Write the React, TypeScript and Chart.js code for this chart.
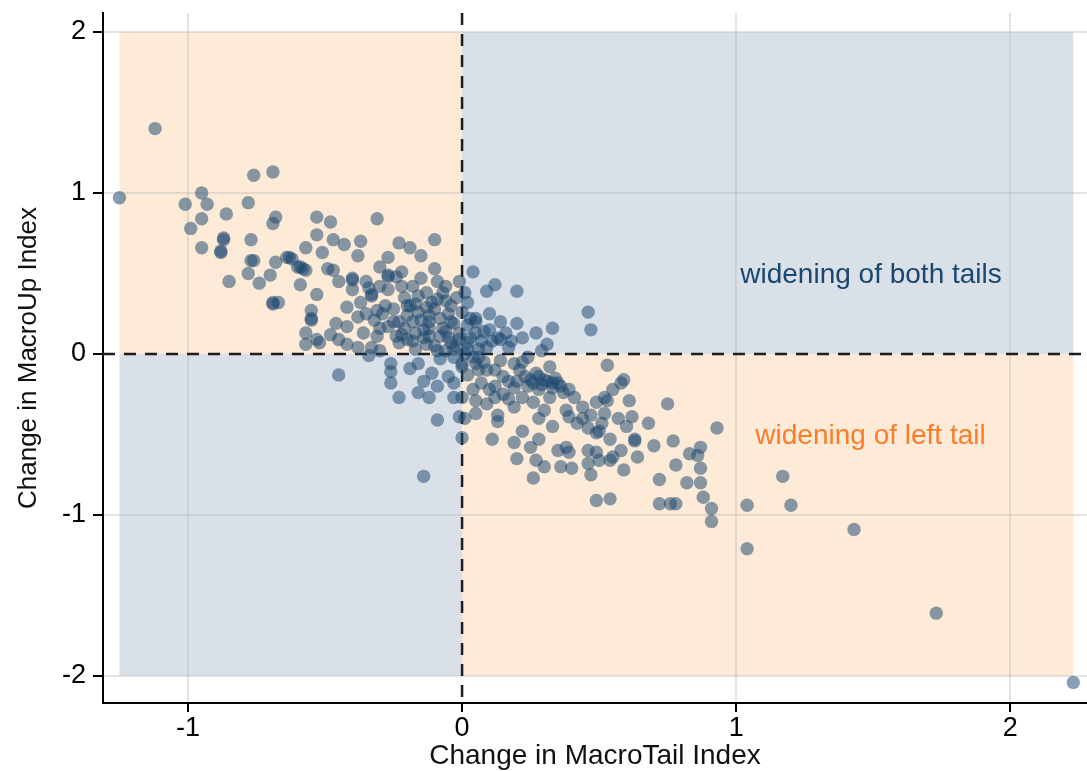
import React, { useEffect, useRef } from 'react';
import { Chart, registerables } from 'chart.js';

Chart.register(...registerables);

// ---------- data ----------
const X_TICKS = [-1, 0, 1, 2];
const Y_TICKS = [-2, -1, 0, 1, 2];
const X_RANGE = [-1.31, 2.28];
const Y_RANGE = [-2.168, 2.118];
const SHADE_X = [-1.25, 2.23];
const SHADE_Y = [-2, 2];
const X_TITLE = 'Change in MacroTail Index';
const Y_TITLE = 'Change in MacroUp Index';
const LABEL_BOTH = 'widening of both tails';
const LABEL_LEFT = 'widening of left tail';
const LABEL_BOTH_AT = [1.015, 0.49];
const LABEL_LEFT_AT = [1.07, -0.51];

// [change in MacroTail index, change in MacroUp index]
const POINTS_UPPER_LEFT: [number, number][] = [
  [-1.12, 1.40], [-0.76, 1.11], [-0.69, 1.13], [-1.25, 0.97], [-0.95, 1.00], [-1.01, 0.93], [-0.93, 0.93],
  [-0.78, 0.94], [-0.95, 0.84], [-0.86, 0.87], [-0.99, 0.78], [-0.68, 0.85], [-0.69, 0.81], [-0.53, 0.85],
  [-0.87, 0.71], [-0.77, 0.71], [-0.95, 0.66], [-0.88, 0.63], [-0.53, 0.74], [-0.57, 0.66], [-0.76, 0.58],
  [-0.68, 0.57], [-0.64, 0.60], [-0.59, 0.54], [-0.57, 0.52], [-0.78, 0.50], [-0.70, 0.49], [-0.74, 0.44],
  [-0.85, 0.45], [-0.59, 0.43], [-0.53, 0.37], [-0.69, 0.32], [-0.67, 0.32], [-0.55, 0.27], [-0.55, 0.21],
  [-0.57, 0.13], [-0.53, 0.09], [-0.57, 0.06], [-0.88, 0.64], [-0.87, 0.72], [-0.77, 0.58], [-0.69, 0.31],
  [-0.63, 0.60], [-0.60, 0.54], [-0.55, 0.22],
];

const POINTS_CENTER_LEFT: [number, number][] = [
  [-0.48, 0.82], [-0.31, 0.84], [-0.47, 0.71], [-0.43, 0.68], [-0.37, 0.70], [-0.38, 0.61], [-0.51, 0.63],
  [-0.23, 0.69], [-0.19, 0.66], [-0.15, 0.61], [-0.10, 0.71], [-0.62, 0.59], [-0.49, 0.53], [-0.47, 0.52],
  [-0.45, 0.45], [-0.40, 0.47], [-0.30, 0.54], [-0.27, 0.60], [-0.27, 0.49], [-0.24, 0.48], [-0.22, 0.51],
  [-0.10, 0.53], [-0.15, 0.47], [-0.09, 0.45], [-0.06, 0.42], [-0.01, 0.45], [-0.52, 0.07], [-0.48, 0.12],
  [-0.46, 0.19], [-0.42, 0.29], [-0.40, 0.40], [-0.37, 0.32], [-0.33, 0.37], [-0.34, 0.41], [-0.27, 0.40],
  [-0.22, 0.42], [-0.21, 0.35], [-0.29, 0.25], [-0.32, 0.21], [-0.38, 0.23], [-0.42, 0.17], [-0.36, 0.13],
  [-0.31, 0.11], [-0.27, 0.17], [-0.24, 0.11], [-0.20, 0.09], [-0.15, 0.21], [-0.13, 0.29], [-0.09, 0.34],
  [-0.05, 0.25], [-0.03, 0.19], [-0.01, 0.13], [-0.12, 0.11], [-0.08, 0.11], [-0.04, 0.07], [-0.33, 0.04],
  [-0.38, 0.04], [-0.45, 0.09], [-0.42, 0.06], [-0.58, 0.53], [-0.40, 0.46], [-0.33, 0.36], [-0.27, 0.48],
  [-0.17, 0.31], [-0.12, 0.16], [-0.06, 0.14], [-0.03, 0.03],
];

const POINTS_LOWER_LEFT: [number, number][] = [
  [-0.34, -0.01], [-0.30, 0.02], [-0.45, -0.13], [-0.26, -0.06], [-0.26, -0.11], [-0.26, -0.18], [-0.23, -0.27],
  [-0.19, -0.09], [-0.16, -0.06], [-0.14, -0.17], [-0.16, -0.24], [-0.12, -0.27], [-0.09, -0.41], [-0.09, -0.20],
  [-0.05, -0.14], [-0.03, -0.18], [-0.03, -0.27], [-0.01, -0.39], [0.00, -0.52], [-0.14, -0.76], [-0.11, -0.12],
  [-0.03, -0.02], [0.00, -0.06], [-0.23, 0.07],
];

const POINTS_CENTER_RIGHT: [number, number][] = [
  [0.04, 0.51], [0.09, 0.39], [0.12, 0.43], [0.20, 0.39], [0.46, 0.26], [0.47, 0.15], [0.02, 0.32], [0.00, 0.26],
  [0.05, 0.20], [0.20, 0.19], [0.33, 0.16], [0.27, 0.13], [0.22, 0.10], [0.13, 0.10], [0.09, 0.04], [0.17, 0.04],
  [0.31, 0.06], [0.29, 0.02], [0.05, 0.13], [0.02, 0.07], [0.53, -0.07], [0.19, -0.06], [0.32, -0.08], [0.24, -0.02],
  [0.14, -0.04], [0.05, -0.06], [0.00, -0.08], [0.09, -0.10], [0.15, -0.14], [0.02, -0.13], [0.07, -0.18],
  [0.10, -0.22], [0.19, -0.21], [0.24, -0.20], [0.31, -0.17], [0.35, -0.18], [0.36, -0.20], [0.39, -0.22],
  [0.41, -0.27], [0.28, -0.22], [0.22, -0.27], [0.19, -0.33], [0.26, -0.30], [0.30, -0.35], [0.38, -0.35],
  [0.44, -0.33], [0.49, -0.30], [0.52, -0.27], [0.55, -0.22], [0.58, -0.18], [0.59, -0.16], [0.61, -0.29],
  [0.62, -0.39], [0.68, -0.43], [0.00, -0.27], [0.05, -0.29], [0.12, -0.27], [0.01, -0.40], [0.05, -0.37],
  [0.13, -0.38], [0.13, -0.42], [0.22, -0.48], [0.28, -0.40], [0.33, -0.45], [0.39, -0.39], [0.42, -0.43],
  [0.46, -0.46], [0.50, -0.48], [0.51, -0.43], [0.54, -0.53], [0.11, -0.53], [0.19, -0.55], [0.25, -0.58],
  [0.28, -0.53], [0.35, -0.60], [0.38, -0.58], [0.39, -0.61], [0.46, -0.60], [0.49, -0.61], [0.58, -0.60],
  [0.63, -0.53], [0.20, -0.65], [0.27, -0.66], [0.30, -0.70], [0.36, -0.70], [0.40, -0.71], [0.46, -0.68],
  [0.50, -0.66], [0.54, -0.66], [0.59, -0.72], [0.64, -0.64], [0.26, -0.77], [0.33, -0.18], [0.30, -0.16],
  [0.49, -0.49], [0.63, -0.54], [0.05, 0.22], [0.26, -0.18], [0.14, 0.09], [0.06, -0.02],
];

const POINTS_FAR_RIGHT: [number, number][] = [
  [0.75, -0.31], [0.93, -0.46], [0.70, -0.57], [0.77, -0.54], [0.87, -0.58], [0.83, -0.62], [0.86, -0.63],
  [0.78, -0.69], [0.87, -0.71], [0.72, -0.78], [0.82, -0.80], [0.87, -0.80], [0.88, -0.89], [0.72, -0.93],
  [0.76, -0.93], [0.78, -0.93], [0.91, -0.96], [0.91, -1.04], [1.04, -0.94], [1.20, -0.94], [1.17, -0.76],
  [1.43, -1.09], [1.04, -1.21], [1.73, -1.61], [2.23, -2.04], [0.49, -0.91], [0.54, -0.90], [0.47, -0.75],
  [0.55, -0.64], [0.53, -0.29],
];

const POINTS_CORE: [number, number][] = [
  [-0.12, 0.20], [-0.07, 0.16], [-0.05, 0.10], [-0.10, 0.05], [-0.02, 0.05], [0.01, 0.00], [-0.06, 0.02],
  [0.03, 0.10], [0.06, 0.03], [-0.14, 0.15], [-0.17, 0.03], [-0.08, -0.03], [0.04, -0.02], [0.08, 0.14],
  [0.11, 0.08], [0.14, 0.20], [0.10, 0.25], [0.16, 0.13], [-0.18, 0.20], [-0.21, 0.16], [-0.11, 0.32],
  [-0.16, 0.36], [-0.04, 0.30], [0.02, 0.18], [-0.20, 0.24], [-0.17, 0.13], [-0.25, 0.20], [-0.19, 0.30],
  [-0.13, 0.06], [0.25, -0.16], [0.29, -0.19], [0.33, -0.21], [0.27, -0.12], [0.21, -0.10], [0.17, -0.17],
  [0.08, -0.05], [0.12, -0.10], [0.04, -0.22], [0.15, -0.25], [0.09, -0.31], [0.01, 0.38], [-0.02, 0.35],
  [0.03, 0.22],
];

const POINTS_DENSE: [number, number][] = [
  [-0.20, 0.30], [-0.16, 0.26], [-0.12, 0.24], [-0.08, 0.22], [-0.04, 0.20], [-0.10, 0.28], [-0.06, 0.33],
  [-0.14, 0.10], [-0.18, 0.08], [-0.22, 0.12], [-0.09, 0.02], [-0.01, 0.09], [0.02, 0.03], [-0.28, 0.30],
  [-0.31, 0.27], [-0.35, 0.25], [-0.23, 0.20], [-0.30, 0.16], [-0.25, 0.28], [-0.35, 0.45], [-0.30, 0.42],
  [-0.18, 0.42], [-0.13, 0.38], [-0.07, 0.38], [0.07, 0.08], [0.10, 0.15], [0.18, 0.08], [0.22, -0.05],
  [0.23, -0.14], [0.28, -0.14], [0.34, -0.15], [0.37, -0.24], [0.32, -0.27], [0.20, -0.17], [0.12, -0.20],
  [0.17, -0.28], [0.06, -0.10], [0.44, -0.40], [0.47, -0.38], [0.52, -0.37], [0.57, -0.40], [0.60, -0.45],
];

// ---------- styles ----------
const FONT = '"Liberation Sans", Arial, Helvetica, sans-serif';
const ORANGE_BG = '#fdead7';
const GRAY_BG = '#d9e0e8';
const GRID = 'rgba(185,185,185,0.38)';
const POINT_COLOR = 'rgba(26,71,111,0.52)';

const quadrantPlugin = {
  id: 'quadrants',
  beforeDraw(chart: any) {
    const { ctx, scales } = chart;
    const xs = scales.x, ys = scales.y;
    const x0 = xs.getPixelForValue(SHADE_X[0]);
    const x1 = xs.getPixelForValue(SHADE_X[1]);
    const xm = xs.getPixelForValue(0);
    const yTop = ys.getPixelForValue(SHADE_Y[1]);
    const yBot = ys.getPixelForValue(SHADE_Y[0]);
    const ym = ys.getPixelForValue(0);
    ctx.save();
    ctx.fillStyle = ORANGE_BG;
    ctx.fillRect(x0, yTop, xm - x0, ym - yTop);
    ctx.fillRect(xm, ym, x1 - xm, yBot - ym);
    ctx.fillStyle = GRAY_BG;
    ctx.fillRect(xm, yTop, x1 - xm, ym - yTop);
    ctx.fillRect(x0, ym, xm - x0, yBot - ym);
    ctx.restore();
  },
  beforeDatasetsDraw(chart: any) {
    const { ctx, chartArea, scales } = chart;
    const xm = scales.x.getPixelForValue(0);
    const ym = scales.y.getPixelForValue(0);
    ctx.save();
    ctx.strokeStyle = '#1e1e1e';
    ctx.lineWidth = 2.5;
    ctx.setLineDash([12, 9]);
    ctx.beginPath();
    ctx.moveTo(xm, chartArea.top);
    ctx.lineTo(xm, chartArea.bottom);
    ctx.stroke();
    ctx.beginPath();
    ctx.moveTo(chartArea.left, ym);
    ctx.lineTo(chartArea.right, ym);
    ctx.stroke();
    ctx.restore();
  },
  afterDatasetsDraw(chart: any) {
    const { ctx, scales } = chart;
    ctx.save();
    ctx.font = `28px ${FONT}`;
    ctx.textAlign = 'left';
    ctx.textBaseline = 'middle';
    ctx.fillStyle = '#1a476f';
    ctx.fillText(LABEL_BOTH, scales.x.getPixelForValue(LABEL_BOTH_AT[0]), scales.y.getPixelForValue(LABEL_BOTH_AT[1]));
    ctx.fillStyle = '#fb7d2a';
    ctx.fillText(LABEL_LEFT, scales.x.getPixelForValue(LABEL_LEFT_AT[0]), scales.y.getPixelForValue(LABEL_LEFT_AT[1]));
    ctx.restore();
  },
};

function zeroPadding(s: any) {
  s.paddingTop = 0;
  s.paddingBottom = 0;
  s.paddingLeft = 0;
  s.paddingRight = 0;
}

export default function App() {
  const canvasRef = useRef<HTMLCanvasElement | null>(null);

  useEffect(() => {
    if (!canvasRef.current) return;
    const all = [
      ...POINTS_UPPER_LEFT,
      ...POINTS_CENTER_LEFT,
      ...POINTS_LOWER_LEFT,
      ...POINTS_CENTER_RIGHT,
      ...POINTS_FAR_RIGHT,
      ...POINTS_CORE,
      ...POINTS_DENSE,
    ].map(([x, y]) => ({ x, y }));

    const gridColor = (c: any) => (c.tick && c.tick.value === 0 ? 'rgba(0,0,0,0)' : GRID);

    const chart = new Chart(canvasRef.current, {
      type: 'scatter',
      data: {
        datasets: [
          {
            data: all,
            backgroundColor: POINT_COLOR,
            borderWidth: 0,
            pointRadius: 6.7,
            pointBorderWidth: 0,
            pointHoverRadius: 6.7,
            clip: false,
          },
        ],
      },
      plugins: [quadrantPlugin],
      options: {
        animation: false,
        responsive: true,
        maintainAspectRatio: false,
        layout: { autoPadding: false, padding: { top: 13, right: 0, left: 0, bottom: 0 } },
        plugins: { legend: { display: false }, tooltip: { enabled: false } },
        scales: {
          x: {
            type: 'linear',
            min: X_RANGE[0],
            max: X_RANGE[1],
            afterFit(s: any) { s.height = 68; zeroPadding(s); },
            afterBuildTicks(s: any) { s.ticks = X_TICKS.map((v) => ({ value: v })); },
            grid: { color: gridColor, lineWidth: 2, tickColor: '#000', tickWidth: 2, tickLength: 9, drawOnChartArea: true },
            border: { color: '#000', width: 2 },
            ticks: { font: { size: 27, family: FONT }, color: '#000', padding: 0, callback: (v: any) => String(v) },
            title: { display: true, text: X_TITLE, color: '#111', font: { size: 28, family: FONT, lineHeight: 1 }, padding: { top: 0, bottom: 1 } },
          },
          y: {
            type: 'linear',
            min: Y_RANGE[0],
            max: Y_RANGE[1],
            afterFit(s: any) { s.width = 103; zeroPadding(s); },
            afterBuildTicks(s: any) { s.ticks = Y_TICKS.map((v) => ({ value: v })); },
            grid: { color: gridColor, lineWidth: 2, tickColor: '#000', tickWidth: 2, tickLength: 10, drawOnChartArea: true },
            border: { color: '#000', width: 2 },
            ticks: { font: { size: 27, family: FONT }, color: '#000', padding: 7, callback: (v: any) => String(v) },
            title: { display: true, text: Y_TITLE, color: '#111', font: { size: 26, family: FONT, lineHeight: 1 }, padding: { top: 16, bottom: 0 } },
          },
        },
      } as any,
    });
    return () => chart.destroy();
  }, []);

  return (
    <div style={{ position: 'absolute', left: 0, top: 0, width: 1087, height: 771, background: '#fff' }}>
      <canvas ref={canvasRef} />
    </div>
  );
}
